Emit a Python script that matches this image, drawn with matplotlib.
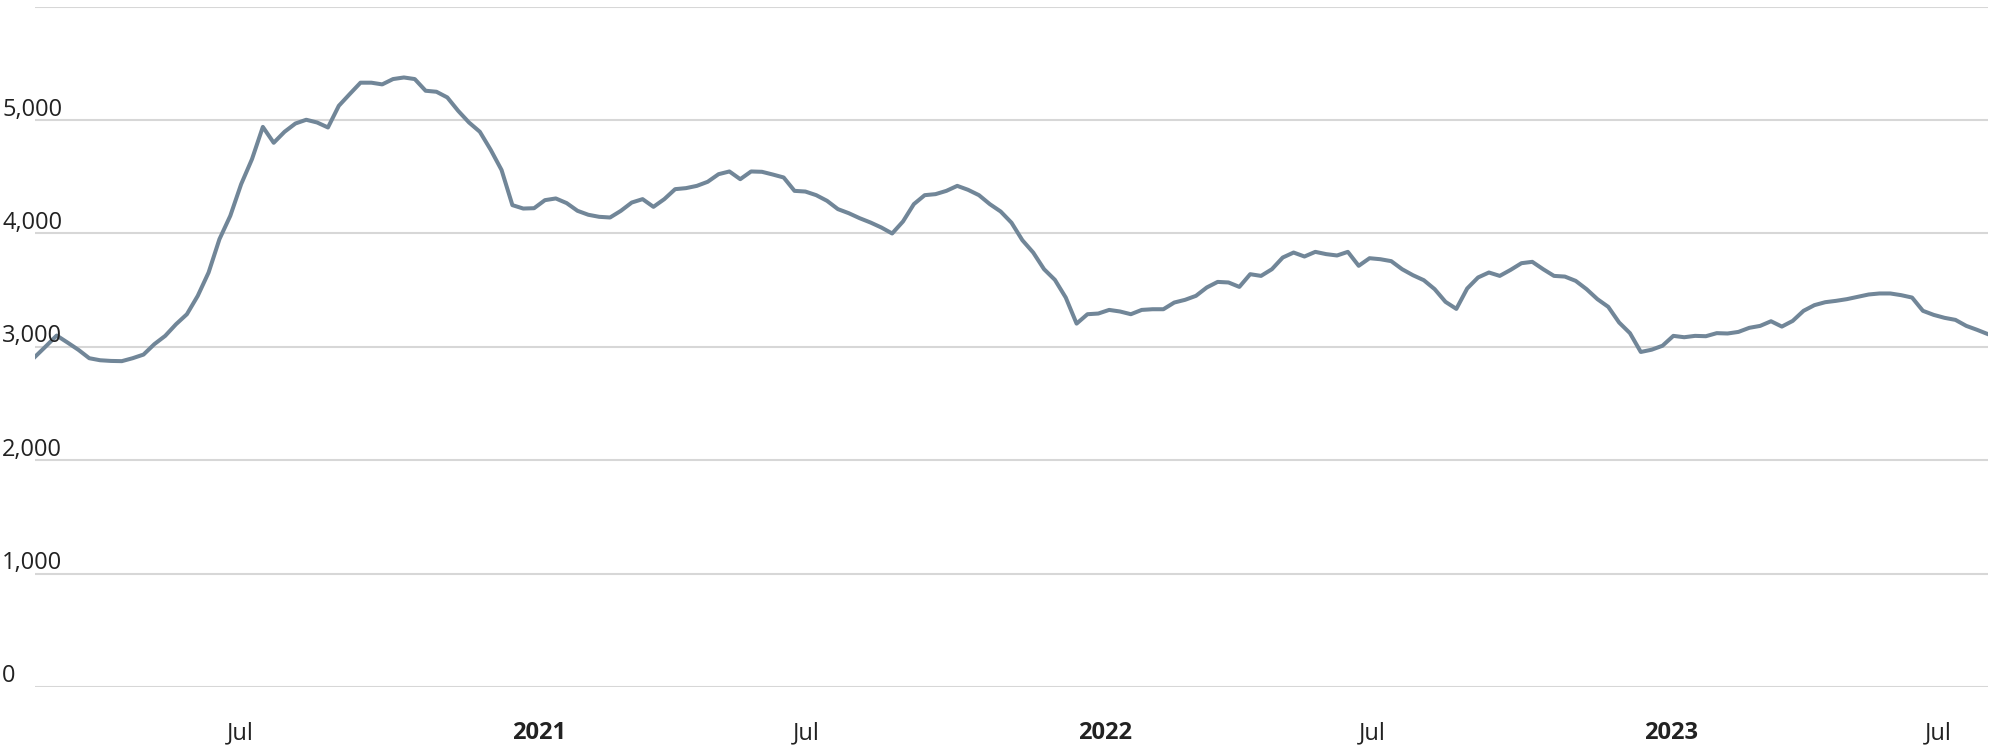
import matplotlib
matplotlib.use("Agg")
import matplotlib.pyplot as plt
import pandas as pd

# weekly values
start_date = "2020-02-28"
values = [
    2912, 3005, 3100, 3038, 2974, 2900, 2882, 2876, 2874, 2900,
    2932, 3024, 3097, 3200, 3288, 3450, 3656, 3950, 4156, 4435,
    4656, 4940, 4800, 4897, 4970, 5003, 4979, 4935, 5126, 5229,
    5330, 5330, 5315, 5362, 5376, 5362, 5259, 5250, 5200, 5082,
    4979, 4897, 4738, 4560, 4250, 4220, 4223, 4294, 4309, 4268,
    4200, 4165, 4147, 4141, 4200, 4273, 4303, 4235, 4303, 4391,
    4400, 4420, 4456, 4523, 4547, 4479, 4547, 4544, 4520, 4494,
    4376, 4370, 4338, 4288, 4215, 4179, 4135, 4097, 4053, 4000,
    4106, 4259, 4338, 4347, 4376, 4420, 4385, 4338, 4259, 4194,
    4095, 3941, 3832, 3685, 3591, 3435, 3205, 3288, 3294, 3326,
    3312, 3288, 3326, 3332, 3332, 3391, 3415, 3450, 3524, 3573,
    3568, 3529, 3641, 3626, 3685, 3788, 3832, 3797, 3838, 3818,
    3806, 3838, 3715, 3782, 3773, 3756, 3685, 3632, 3588, 3509,
    3397, 3335, 3515, 3612, 3656, 3626, 3679, 3738, 3750, 3685,
    3626, 3620, 3582, 3509, 3421, 3353, 3215, 3121, 2955, 2975,
    3010, 3097, 3085, 3097, 3094, 3121, 3118, 3132, 3168, 3185,
    3226, 3179, 3229, 3318, 3368, 3394, 3406, 3421, 3441, 3462,
    3471, 3471, 3456, 3435, 3318, 3282, 3256, 3238, 3185, 3150,
    3112,
]
dates = pd.date_range(start_date, periods=len(values), freq="7D")

y_ticks = [0, 1000, 2000, 3000, 4000, 5000, 6000]
y_labels = ["0", "1,000", "2,000", "3,000", "4,000", "5,000", ""]
x_ticks = ["2020-07-01", "2021-01-01", "2021-07-01", "2022-01-01",
           "2022-07-01", "2023-01-01", "2023-07-01"]
x_labels = ["Jul", "2021", "Jul", "2022", "Jul", "2023", "Jul"]

plt.rcParams["font.family"] = ["Open Sans", "DejaVu Sans"]

fig = plt.figure(figsize=(20, 7.47), dpi=100)
ax = fig.add_axes([0.0175, 0.0803, 0.9765, 0.9107])

for y in y_ticks:
    ax.axhline(y, color="#d7d7d7", lw=1.5, zorder=1)

ax.plot(dates, values, color="#718698", lw=2.9, zorder=3,
        solid_joinstyle="round")

ax.set_xlim(dates[0], dates[-1])
ax.set_ylim(0, 6000)
ax.set_xticks([])
ax.set_yticks([])
for s in ax.spines.values():
    s.set_visible(False)

# y labels sit above their gridlines at the left edge
for y, lab in zip(y_ticks, y_labels):
    ax.text(-0.0168, y + 40, lab, transform=ax.get_yaxis_transform(),
            ha="left", va="baseline", fontsize=17, color="#222222")

# x labels are left-aligned to their dates, years in bold
for d, lab in zip(x_ticks, x_labels):
    bold = lab.isdigit()
    ax.text(pd.Timestamp(d), -0.068, lab, transform=ax.get_xaxis_transform(),
            ha="left", va="center", fontsize=17, color="#222222",
            fontweight="bold" if bold else "normal")

fig.savefig("out.png", dpi=100)
